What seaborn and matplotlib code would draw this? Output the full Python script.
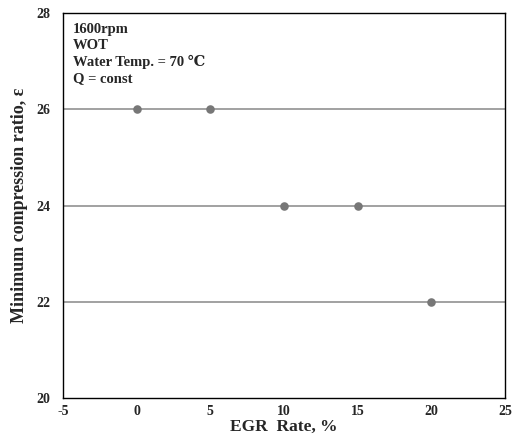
import matplotlib
matplotlib.use("Agg")
import matplotlib.pyplot as plt
import seaborn as sns
import pandas as pd

egr_rate = [0, 5, 10, 15, 20]
min_cr = [26, 26, 24, 24, 22]
x_ticks = [-5, 0, 5, 10, 15, 20, 25]
y_ticks = [20, 22, 24, 26, 28]
notes = ["1600rpm", "WOT", "Water Temp. = 70 \u2103", "Q = const"]

sns.set_theme(style="white")
plt.rcParams['font.family'] = ['Liberation Serif', 'DejaVu Serif']
plt.rcParams['font.weight'] = 'bold'

df = pd.DataFrame({"egr": egr_rate, "cr": min_cr})

fig = plt.figure(figsize=(5.16, 4.38), dpi=100)
ax = fig.add_axes([0.122, 0.0913, 0.857, 0.879])
for yv in [22, 24, 26]:
    ax.axhline(yv, color="#9a9a9a", lw=1.3, zorder=1)
sns.scatterplot(data=df, x="egr", y="cr", ax=ax, color="#777777", s=38,
                edgecolor="#777777", linewidth=0, zorder=3, legend=False)
ax.set_xlim(-5, 25)
ax.set_ylim(20, 28)
ax.set_xticks(x_ticks)
ax.set_yticks(y_ticks)
ax.set_xticklabels([str(v) for v in x_ticks], fontsize=10, fontweight="bold")
ax.set_yticklabels([str(v) for v in y_ticks], fontsize=10, fontweight="bold")
ax.tick_params(axis="x", length=0, pad=5)
ax.tick_params(axis="y", length=0, pad=9)
for s in ax.spines.values():
    s.set_color("black")
    s.set_linewidth(1.0)
ax.set_xlabel("EGR  Rate, %", fontsize=12.5, fontweight="bold", labelpad=0.5)
ax.set_ylabel("Minimum compression ratio, \u03b5", fontsize=13, fontweight="bold", labelpad=6)
ypos = [0.958, 0.915, 0.872, 0.830]
for t, yp in zip(notes, ypos):
    ax.text(0.022, yp, t, transform=ax.transAxes, va="center", ha="left",
            fontsize=10.5, fontweight="bold")
fig.savefig("out.png", dpi=100)
